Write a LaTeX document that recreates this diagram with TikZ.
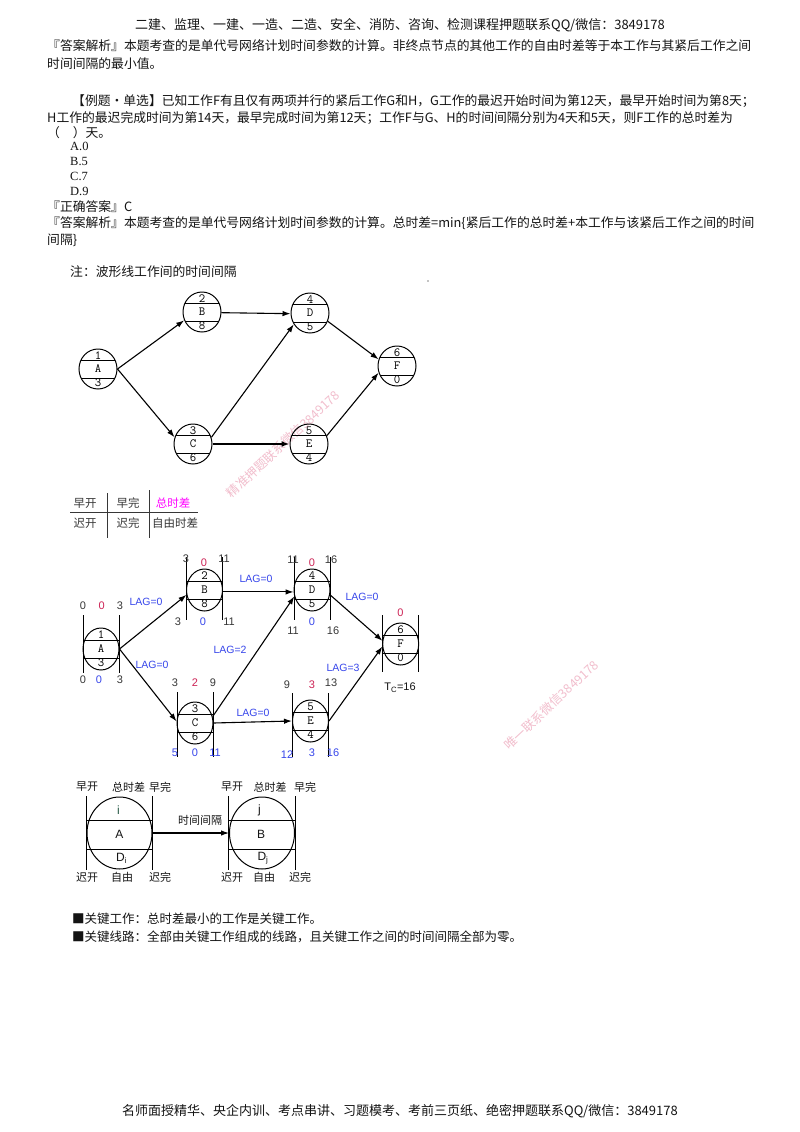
\documentclass[tikz,border=0pt]{standalone}
\usepackage{fontspec}
\usetikzlibrary{shapes.geometric,arrows.meta}
\setmainfont{Noto Sans CJK SC}
\newfontfamily\lsans{Liberation Sans}
\newfontfamily\lserif{Liberation Serif}
\definecolor{lagblue}{RGB}{55,70,235}
\definecolor{numred}{RGB}{205,35,85}
\definecolor{mag}{RGB}{255,0,255}
\definecolor{numgray}{RGB}{55,55,55}
\definecolor{wmpink}{RGB}{242,190,205}
\definecolor{txtc}{RGB}{20,20,20}
\definecolor{igreen}{RGB}{40,90,70}

\newcommand{\nodeone}[6]{%
  \node[eone] (#1) at (#2,#3) {};
  \begin{scope}
    \clip (#2,#3) ellipse [x radius=19pt, y radius=20pt];
    \draw[lw] (#2-20,#3-9) -- (#2+20,#3-9) (#2-20,#3+9) -- (#2+20,#3+9);
  \end{scope}
  \node[tone] (#1-t) at (#2,#3-13.5) {#4};
  \node[tone] (#1-m) at (#2,#3) {#5};
  \node[tone] (#1-b) at (#2,#3+14) {#6};
}
\newcommand{\nodetwo}[8]{%
  \node[etwo] (#1) at (#2,#3) {};
  \draw[lw] (#2-18,#3-9) -- (#2+18,#3-9) (#2-18,#3+9) -- (#2+18,#3+9);
  \draw[lw] (#2-18,#3-#7) -- (#2-18,#3+#8) (#2+18,#3-#7) -- (#2+18,#3+#8);
  \node[tone] (#1-t) at (#2,#3-14) {#4};
  \node[tone] (#1-m) at (#2,#3) {#5};
  \node[tone] (#1-b) at (#2,#3+14) {#6};
}

\begin{document}
\begin{tikzpicture}[x=1pt,y=-1pt,
  lw/.style={line width=1pt},
  txt/.style={anchor=base west, inner sep=0, text=txtc, font=\fontsize{12.8}{15}\selectfont},
  hdr/.style={anchor=base, inner sep=0, text=txtc, font=\fontsize{13}{15}\selectfont},
  opt/.style={anchor=base west, inner sep=0, text=txtc, font=\lserif\fontsize{12.5}{14}\selectfont},
  eone/.style={ellipse, draw, line width=1pt, minimum width=38pt, minimum height=40pt, inner sep=0},
  etwo/.style={ellipse, draw, line width=1pt, minimum width=36pt, minimum height=42pt, inner sep=0},
  ethree/.style={ellipse, draw, line width=1pt, minimum width=65pt, minimum height=72pt, inner sep=0},
  tone/.style={inner sep=0, font=\ttfamily\fontsize{12.5}{13}\selectfont},
  arr/.style={-{Latex[length=8pt,width=5.5pt]}, line width=1.1pt},
  num/.style={inner sep=0, font=\lsans\fontsize{11}{12}\selectfont, text=numgray},
  numr/.style={num, text=numred},
  numb/.style={num, text=lagblue},
  lag/.style={inner sep=0, font=\lsans\fontsize{10.5}{12}\selectfont, text=lagblue},
  leg/.style={inner sep=0, font=\fontsize{11.5}{13}\selectfont, text=numgray},
  dth/.style={inner sep=0, font=\fontsize{11}{13}\selectfont, text=txtc},
  dthl/.style={inner sep=0, font=\lsans\fontsize{12}{13}\selectfont, text=txtc},
  wm/.style={inner sep=0, text=wmpink, font=\fontsize{12.5}{13}\selectfont, rotate=43},
]
\useasboundingbox[fill=white] (0,0) rectangle (800,1132);

% ---------- header / footer ----------
\node[hdr] (header) at (400,30) {二建、监理、一建、一造、二造、安全、消防、咨询、检测课程押题联系QQ/微信：3849178};
\node[hdr] (footer) at (400,1115) {名师面授精华、央企内训、考点串讲、习题模考、考前三页纸、绝密押题联系QQ/微信：3849178};

% ---------- body text ----------
\node[txt] (l1) at (47,51) {『答案解析』本题考查的是单代号网络计划时间参数的计算。非终点节点的其他工作的自由时差等于本工作与其紧后工作之间};
\node[txt] (l2) at (47,69) {时间间隔的最小值。};
\node[txt] (l3) at (72,105) {【例题·单选】已知工作F有且仅有两项并行的紧后工作G和H，G工作的最迟开始时间为第12天，最早开始时间为第8天；};
\node[txt] (l4) at (47,122) {H工作的最迟完成时间为第14天，最早完成时间为第12天；工作F与G、H的时间间隔分别为4天和5天，则F工作的总时差为};
\node[txt] (l5) at (47,137) {（　）天。};
\node[opt] (oA) at (70,150) {A.0};
\node[opt] (oB) at (70,165) {B.5};
\node[opt] (oC) at (70,180) {C.7};
\node[opt] (oD) at (70,195) {D.9};
\node[txt] (l6) at (47,211) {『正确答案』C};
\node[txt] (l7) at (47,227) {『答案解析』本题考查的是单代号网络计划时间参数的计算。总时差=min\{紧后工作的总时差+本工作与该紧后工作之间的时间};
\node[txt] (l8) at (47,244) {间隔\}};
\node[txt] (l9) at (70,276) {注：波形线工作间的时间间隔};
\fill (428,281) circle (0.6pt);

% ---------- watermarks ----------
\node[wm] (wm1) at (283,444) {精准押题联系微信3849178};
\node[wm] (wm2) at (551,705) {唯一联系微信3849178};

% ---------- diagram 1 ----------
\nodeone{a1}{98}{369}{1}{A}{3}
\nodeone{b1}{202}{312}{2}{B}{8}
\nodeone{d1}{310}{313}{4}{D}{5}
\nodeone{f1}{397}{366}{6}{F}{0}
\nodeone{c1}{193}{444}{3}{C}{6}
\nodeone{e1}{309}{444}{5}{E}{4}
\draw[arr] (a1.east) -- (b1.205);
\draw[arr] (a1.east) -- (c1.160);
\draw[arr] (b1.-2) -- (d1.182);
\draw[arr] (c1.20) -- (d1.215);
\draw[-{Latex[length=8pt,width=6pt]}, line width=1.9pt] (c1.east) -- (e1.west);
\draw[arr] (d1.-25) -- (f1.160);
\draw[arr] (e1.25) -- (f1.200);

% ---------- legend table ----------
\node[leg] (lg1) at (85,503) {早开};
\node[leg] (lg2) at (128,503) {早完};
\node[leg, text=mag] (lg3) at (173,503) {总时差};
\node[leg] (lg4) at (85,523) {迟开};
\node[leg] (lg5) at (128,523) {迟完};
\node[leg] (lg6) at (175,523) {自由时差};
\draw[lw, numgray] (70,512) -- (198,512);
\draw[lw, numgray] (107.7,493) -- (107.7,538);
\draw[lw, numgray] (149,490) -- (149,538);

% ---------- diagram 2 ----------
\nodetwo{a2}{101}{649}{1}{A}{3}{34}{24}
\nodetwo{b2}{204.5}{590}{2}{B}{8}{33}{30}
\nodetwo{d2}{312}{590}{4}{D}{5}{33}{30}
\nodetwo{f2}{400.7}{644}{6}{F}{0}{29}{28}
\nodetwo{c2}{195}{723}{3}{C}{6}{31}{34}
\nodetwo{e2}{310.5}{721}{5}{E}{4}{28}{36}
\draw[arr] (a2.east) -- (b2.195);
\draw[arr] (a2.east) -- (c2.175);
\draw[arr] (b2.-6) -- (d2.186);
\draw[arr] (c2.20) -- (d2.200);
\draw[arr] (c2.east) -- (e2.west);
\draw[arr] (d2.-15) -- (f2.170);
\draw[arr] (e2.east) -- (f2.188);

\node[num]  (a2n1) at (83,606) {0};
\node[numr] (a2n2) at (101.7,606) {0};
\node[num]  (a2n3) at (120,606) {3};
\node[num]  (a2n4) at (83,680) {0};
\node[numb] (a2n5) at (99,680) {0};
\node[num]  (a2n6) at (120,680) {3};

\node[num]  (b2n1) at (186,559) {3};
\node[numr] (b2n2) at (204,563) {0};
\node[num]  (b2n3) at (224,559) {11};
\node[num]  (b2n4) at (178,622) {3};
\node[numb] (b2n5) at (203,622) {0};
\node[num]  (b2n6) at (229,622) {11};

\node[num]  (d2n1) at (293,560) {11};
\node[numr] (d2n2) at (312,563) {0};
\node[num]  (d2n3) at (331,560) {16};
\node[num]  (d2n4) at (293,631) {11};
\node[numb] (d2n5) at (312,622) {0};
\node[num]  (d2n6) at (333,631) {16};

\node[numr] (f2n1) at (400.5,613) {0};
\node[num, text=txtc] (tc) at (400,688) {T\textsubscript{C}=16};

\node[num]  (c2n1) at (175,683) {3};
\node[numr] (c2n2) at (195,683) {2};
\node[num]  (c2n3) at (213,683) {9};
\node[numb] (c2n4) at (175,753) {5};
\node[numb] (c2n5) at (195,753) {0};
\node[numb] (c2n6) at (215,753) {11};

\node[num]  (e2n1) at (287,685) {9};
\node[numr] (e2n2) at (312,685) {3};
\node[num]  (e2n3) at (331,683) {13};
\node[numb] (e2n4) at (287,755) {12};
\node[numb] (e2n5) at (312,753) {3};
\node[numb] (e2n6) at (333,753) {16};

\node[lag] (lag1) at (146,602) {LAG=0};
\node[lag] (lag2) at (152,665) {LAG=0};
\node[lag] (lag3) at (256,579) {LAG=0};
\node[lag] (lag4) at (230,650) {LAG=2};
\node[lag] (lag5) at (253,713) {LAG=0};
\node[lag] (lag6) at (362,597) {LAG=0};
\node[lag] (lag7) at (343,668) {LAG=3};

% ---------- diagram 3 ----------
\node[ethree] (ni) at (119.5,833) {};
\node[ethree] (nj) at (262,833) {};
\draw[lw] (86.5,820) -- (152.5,820) (86.5,849) -- (152.5,849);
\draw[lw] (86.5,796) -- (86.5,870) (152.5,796) -- (152.5,870);
\draw[lw] (228.5,820) -- (295.5,820) (228.5,849) -- (295.5,849);
\draw[lw] (228.5,796) -- (228.5,870) (295.5,796) -- (295.5,870);
\draw[arr] (ni.east) -- (nj.west);
\node[dth] (gap) at (200,820) {时间间隔};

\node[dth] (i1) at (87,787) {早开};
\node[dth] (i2) at (128.5,787) {总时差};
\node[dth] (i3) at (160,787) {早完};
\node[dthl, text=igreen] (i4) at (118.5,810.5) {i};
\node[dthl] (i5) at (119.5,834) {A};
\node[dthl] (i6) at (121.5,858) {D\textsubscript{i}};
\node[dth] (i7) at (87,877) {迟开};
\node[dth] (i8) at (122,877) {自由};
\node[dth] (i9) at (160,877) {迟完};

\node[dth] (j1) at (232,787) {早开};
\node[dth] (j2) at (270,787) {总时差};
\node[dth] (j3) at (305,787) {早完};
\node[dthl] (j4) at (259.5,810.5) {j};
\node[dthl] (j5) at (261,834) {B};
\node[dthl] (j6) at (263,858) {D\textsubscript{j}};
\node[dth] (j7) at (232,877) {迟开};
\node[dth] (j8) at (264,877) {自由};
\node[dth] (j9) at (300,877) {迟完};

% ---------- bullets ----------
\node[txt, font=\fontsize{12.5}{15}\selectfont] (k1) at (72,923) {■关键工作：总时差最小的工作是关键工作。};
\node[txt, font=\fontsize{12.5}{15}\selectfont] (k2) at (72,941) {■关键线路：全部由关键工作组成的线路，且关键工作之间的时间间隔全部为零。};
\end{tikzpicture}
\end{document}
